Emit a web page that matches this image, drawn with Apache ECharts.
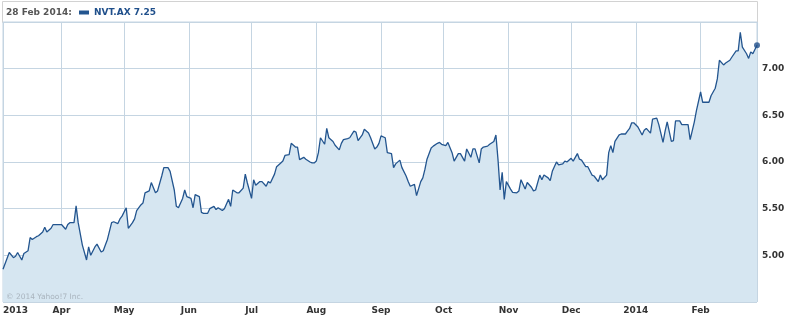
<!DOCTYPE html>
<html>
<head>
<meta charset="utf-8">
<script src="https://cdn.jsdelivr.net/npm/echarts@6/dist/echarts.min.js"></script>
<style>
html,body{margin:0;padding:0;background:#fff;}
#chart{width:790px;height:317px;}
</style>
</head>
<body>
<div id="chart"></div>
<script>
const seriesName = 'NVT.AX';
const headerDate = '28 Feb 2014:';
const copyright = '\u00A9 2014 Yahoo!7 Inc.';

const dates = [
'2013-03-04','2013-03-07','2013-03-09','2013-03-10','2013-03-11','2013-03-13','2013-03-14','2013-03-16','2013-03-17','2013-03-18','2013-03-20','2013-03-21','2013-03-23','2013-03-24','2013-03-25','2013-03-27','2013-03-28','2013-03-30',
'2013-04-01','2013-04-03','2013-04-04','2013-04-05','2013-04-07','2013-04-08','2013-04-09','2013-04-11','2013-04-13','2013-04-14','2013-04-15','2013-04-17','2013-04-18','2013-04-20','2013-04-21','2013-04-22','2013-04-23','2013-04-25','2013-04-26','2013-04-28','2013-04-29','2013-04-30',
'2013-05-02','2013-05-03','2013-05-05','2013-05-06','2013-05-07','2013-05-09','2013-05-10','2013-05-11','2013-05-13','2013-05-14','2013-05-16','2013-05-17','2013-05-19','2013-05-20','2013-05-22','2013-05-23','2013-05-25','2013-05-26','2013-05-27','2013-05-29','2013-05-30','2013-05-31',
'2013-06-02','2013-06-03','2013-06-04','2013-06-06','2013-06-07','2013-06-08','2013-06-10','2013-06-11','2013-06-13','2013-06-14','2013-06-15','2013-06-17','2013-06-18','2013-06-20','2013-06-21','2013-06-22','2013-06-24','2013-06-25','2013-06-27','2013-06-28','2013-06-29',
'2013-07-01','2013-07-02','2013-07-03','2013-07-05','2013-07-06','2013-07-08','2013-07-09','2013-07-10','2013-07-12','2013-07-13','2013-07-15','2013-07-16','2013-07-17','2013-07-19','2013-07-20','2013-07-22','2013-07-23','2013-07-24','2013-07-26','2013-07-27','2013-07-29','2013-07-30','2013-07-31',
'2013-08-01','2013-08-02','2013-08-03','2013-08-05','2013-08-06','2013-08-07','2013-08-09','2013-08-10','2013-08-12','2013-08-13','2013-08-14','2013-08-16','2013-08-17','2013-08-19','2013-08-20','2013-08-21','2013-08-23','2013-08-24','2013-08-26','2013-08-27','2013-08-29','2013-08-30','2013-08-31',
'2013-09-01','2013-09-03','2013-09-04','2013-09-06','2013-09-07','2013-09-08','2013-09-10','2013-09-11','2013-09-13','2013-09-14','2013-09-15','2013-09-17','2013-09-18','2013-09-20','2013-09-21','2013-09-22','2013-09-23','2013-09-25','2013-09-26','2013-09-28','2013-09-29','2013-09-30',
'2013-10-02','2013-10-03','2013-10-05','2013-10-06','2013-10-08','2013-10-09','2013-10-11','2013-10-12','2013-10-14','2013-10-15','2013-10-16','2013-10-18','2013-10-19','2013-10-20','2013-10-22','2013-10-23','2013-10-25','2013-10-26','2013-10-27','2013-10-28','2013-10-29','2013-10-30','2013-10-31',
'2013-11-02','2013-11-03','2013-11-05','2013-11-06','2013-11-07','2013-11-09','2013-11-10','2013-11-12','2013-11-13','2013-11-14','2013-11-16','2013-11-17','2013-11-18','2013-11-20','2013-11-21','2013-11-22','2013-11-24','2013-11-25','2013-11-27','2013-11-28','2013-11-29',
'2013-12-01','2013-12-02','2013-12-04','2013-12-05','2013-12-06','2013-12-08','2013-12-09','2013-12-11','2013-12-12','2013-12-14','2013-12-15','2013-12-16','2013-12-18','2013-12-19','2013-12-20','2013-12-21','2013-12-22','2013-12-24','2013-12-25','2013-12-27','2013-12-28','2013-12-29','2013-12-30','2013-12-31',
'2014-01-02','2014-01-04','2014-01-05','2014-01-06','2014-01-08','2014-01-09','2014-01-11','2014-01-12','2014-01-14','2014-01-15','2014-01-16','2014-01-18','2014-01-19','2014-01-20','2014-01-22','2014-01-23','2014-01-25','2014-01-26','2014-01-27','2014-01-29','2014-01-30',
'2014-02-01','2014-02-02','2014-02-04','2014-02-05','2014-02-06','2014-02-08','2014-02-09','2014-02-10','2014-02-12','2014-02-13','2014-02-15','2014-02-16','2014-02-18','2014-02-19','2014-02-20','2014-02-21','2014-02-23','2014-02-24','2014-02-25','2014-02-26','2014-02-28'
];

const prices = [
4.85,5.03,4.975,4.99,5.03,4.95,5.02,5.05,5.19,5.17,5.20,5.21,5.25,5.30,5.25,5.29,5.33,5.33,
5.33,5.28,5.33,5.35,5.35,5.53,5.35,5.11,4.95,5.09,5.00,5.09,5.12,5.035,5.05,5.11,5.17,5.35,5.36,5.34,5.39,5.42,
5.51,5.29,5.35,5.39,5.48,5.54,5.56,5.67,5.69,5.78,5.67,5.69,5.85,5.94,5.94,5.90,5.70,5.525,5.51,5.61,5.70,5.63,
5.61,5.51,5.65,5.63,5.46,5.45,5.45,5.50,5.525,5.49,5.51,5.48,5.50,5.60,5.525,5.70,5.67,5.67,5.72,5.87,5.775,
5.61,5.81,5.75,5.79,5.79,5.74,5.79,5.775,5.87,5.95,5.99,6.01,6.07,6.08,6.20,6.16,6.16,6.025,6.05,6.03,6.00,5.99,5.99,
6.01,6.10,6.26,6.19,6.36,6.26,6.22,6.18,6.13,6.20,6.24,6.25,6.26,6.33,6.32,6.23,6.29,6.35,6.31,6.26,6.14,6.16,6.20,
6.28,6.26,6.10,6.09,5.94,5.98,6.02,5.94,5.85,5.79,5.74,5.76,5.64,5.79,5.83,5.92,6.03,6.15,6.17,6.20,6.21,6.19,
6.175,6.21,6.10,6.01,6.09,6.09,6.01,6.14,6.05,6.14,6.14,5.99,6.14,6.16,6.17,6.19,6.22,6.29,6.025,5.70,5.89,5.60,5.79,
5.71,5.675,5.67,5.69,5.81,5.71,5.78,5.73,5.69,5.70,5.86,5.81,5.86,5.83,5.80,5.90,6.00,5.97,5.98,6.01,6.00,
6.04,6.01,6.09,6.03,6.02,5.95,5.95,5.86,5.85,5.79,5.86,5.81,5.86,6.10,6.175,6.10,6.22,6.29,6.30,6.30,6.33,6.36,6.42,6.42,
6.375,6.29,6.34,6.36,6.31,6.46,6.47,6.40,6.21,6.33,6.43,6.22,6.23,6.44,6.44,6.40,6.40,6.40,6.24,6.43,6.55,
6.75,6.64,6.64,6.64,6.71,6.79,6.89,7.09,7.04,7.06,7.09,7.125,7.19,7.19,7.39,7.23,7.16,7.11,7.18,7.16,7.25
];

const xTickDates = ['2013-03-04','2013-04-01','2013-05-01','2013-06-01','2013-07-01','2013-08-01','2013-09-01','2013-10-01','2013-11-01','2013-12-01','2014-01-01','2014-02-01'];
const xTickLabels = ['2013','Apr','May','Jun','Jul','Aug','Sep','Oct','Nov','Dec','2014','Feb'];
const yMin = 4.5, yMax = 7.5, yStep = 0.5;
const xMin = '2013-03-04', xMax = '2014-02-28';

const labelMap = {};
xTickDates.forEach((d, i) => { labelMap[d] = xTickLabels[i]; });
function pad(n){ return n < 10 ? '0' + n : '' + n; }
function key(v){ const d = new Date(v); return d.getFullYear() + '-' + pad(d.getMonth() + 1) + '-' + pad(d.getDate()); }

const lineData = dates.map((d, i) => [d, prices[i]]);
const last = dates.length - 1;

const FONT = 'DejaVu Sans';
const chart = echarts.init(document.getElementById('chart'), null, {renderer: 'canvas'});
chart.setOption({
  animation: false,
  backgroundColor: '#ffffff',
  title: {
    text: headerDate, left: 6, top: 8, padding: 0,
    textStyle: {fontFamily: FONT, fontSize: 9, fontWeight: 'bold', color: '#555555'}
  },
  legend: {
    data: [seriesName], left: 79, top: 8, padding: 0,
    icon: 'rect', itemWidth: 10, itemHeight: 4, itemGap: 5,
    formatter: (name) => name + ' ' + prices[last].toFixed(2),
    textStyle: {fontFamily: FONT, fontSize: 9, fontWeight: 'bold', color: '#1f4f8b'}
  },
  graphic: [
    {type: 'rect', z: -1, silent: true, shape: {x: 2.5, y: 1.5, width: 755, height: 21},
     style: {fill: '#ffffff', stroke: '#d2d2d2', lineWidth: 1}},
    {type: 'text', z: 10, silent: true, left: 6, top: 293,
     style: {text: copyright, fill: '#a9b4be', font: '7.5px "DejaVu Sans"'}}
  ],
  grid: {left: 2, right: 33, top: 22, bottom: 15, show: true, borderColor: '#c5d5e2', borderWidth: 1, backgroundColor: 'transparent'},
  xAxis: {
    type: 'time', min: xMin, max: xMax, splitNumber: 12,
    minInterval: 28 * 86400000, maxInterval: 31 * 86400000,
    axisLine: {show: false}, axisTick: {show: false},
    splitLine: {show: true, lineStyle: {color: '#c5d5e2', width: 1}},
    axisLabel: {
      show: true, margin: 4, showMinLabel: true, showMaxLabel: true, hideOverlap: false,
      alignMinLabel: 'left',
      fontFamily: FONT, fontSize: 9, fontWeight: 'bold', color: '#333333',
      formatter: (v) => labelMap[key(v)] || ''
    }
  },
  yAxis: {
    type: 'value', position: 'right', min: yMin, max: yMax, interval: yStep,
    axisLine: {show: false}, axisTick: {show: false},
    splitLine: {show: true, lineStyle: {color: '#c5d5e2', width: 1}},
    axisLabel: {
      margin: 5, showMinLabel: false, showMaxLabel: false,
      fontFamily: FONT, fontSize: 9, fontWeight: 'bold', color: '#333333',
      formatter: (v) => v.toFixed(2)
    }
  },
  series: [
    {
      name: seriesName, type: 'line', data: lineData, showSymbol: false, symbol: 'none',
      color: '#23558f',
      lineStyle: {color: '#23558f', width: 1.3},
      areaStyle: {color: '#d6e6f1', opacity: 1, origin: 'start'},
      z: 2
    },
    {
      name: 'last', type: 'scatter', data: [[dates[last], prices[last]]],
      symbol: 'circle', symbolSize: 6, itemStyle: {color: '#1f4f8b'}, z: 5
    }
  ]
});
</script>
</body>
</html>
